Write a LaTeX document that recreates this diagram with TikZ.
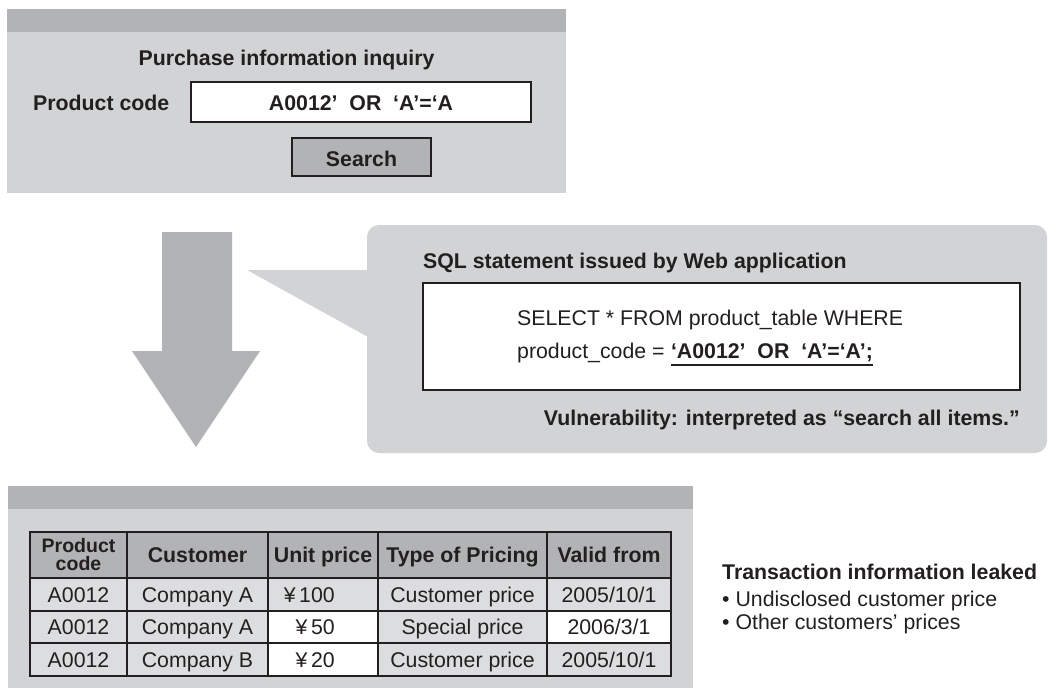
\documentclass[tikz,border=0pt]{standalone}
\usepackage{fontspec}
\setmainfont{Liberation Sans}
\definecolor{panelgray}{HTML}{D1D3D4}
\definecolor{bandgray}{HTML}{B2B3B5}
\definecolor{cellgray}{HTML}{DCDDDE}
\definecolor{ink}{HTML}{231F20}
\newcommand\mainsize{\fontsize{21.3}{25}\selectfont}
\tikzset{
  panel/.style={fill=panelgray, draw=none},
  band/.style={fill=bandgray, draw=none},
  framed/.style={draw=ink, line width=1.3pt},
  txt/.style={inner sep=0pt, text=ink, font=\mainsize},
  btxt/.style={inner sep=0pt, text=ink, font=\mainsize\bfseries},
  cell/.style={draw=ink, line width=1.2pt, inner sep=0pt, text=ink, font=\mainsize},
  oneline/.style={text height=15pt, text depth=0pt},
  hdr/.style={cell, oneline, fill=bandgray, font=\mainsize\bfseries},
}
\begin{document}
\begin{tikzpicture}[x=1pt, y=-1pt]
\useasboundingbox (0,0) rectangle (1056,693);

% ---------- inquiry form ----------
\fill[panelgray] (7,9) rectangle (566,193);
\fill[bandgray] (7,9) rectangle (566,32);
\node[btxt, anchor=base] (title) at (286.5,65) {Purchase information inquiry};
\node[btxt, anchor=base west] (pclabel) at (33,110) {Product code};
\draw[framed, fill=white] (191,82) rectangle (531,122);
\node[btxt, anchor=base] (pcinput) at (361,110) {A0012’\ \ OR\ \ ‘A’=‘A};
\draw[framed, fill=bandgray] (292,138) rectangle (431,176);
\node[btxt, anchor=base] (search) at (361.5,166) {Search};

% ---------- downward arrow ----------
\fill[bandgray] (162,232) -- (232,232) -- (232,351) -- (260,351) -- (196,447)
  -- (132,351) -- (162,351) -- cycle;

% ---------- SQL callout ----------
\fill[panelgray, rounded corners=12pt] (367,225) rectangle (1047,453);
\fill[panelgray] (247,270) -- (368,270) -- (368,337) -- cycle;
\node[btxt, anchor=base west] (sqltitle) at (423,268) {SQL statement issued by Web application};
\draw[framed, fill=white] (423,283) rectangle (1020,390);
\node[txt, anchor=base west] (sqlselect) at (517,325) {SELECT * FROM product\_table WHERE};
\node[txt, anchor=base west] (sqlcode) at (517,358) {product\_code =};
\node[btxt, anchor=base west] (inj) at ([xshift=6pt]sqlcode.base east) {‘A0012’\ \ OR\ \ ‘A’=‘A’;};
\draw[ink, line width=2.6pt] ([yshift=-7pt]inj.base west) -- ([yshift=-7pt]inj.base east);
\node[btxt, anchor=base east] (vuln) at (1020,425) {Vulnerability: interpreted as “search all items.”};

% ---------- result list ----------
\fill[panelgray] (8,486) rectangle (693,688);
\fill[bandgray] (8,486) rectangle (693,509);

% header row
\node[cell, fill=bandgray, font=\fontsize{19.5}{18}\selectfont\bfseries, align=center,
  minimum width=97pt, minimum height=46pt] (h1) at (78.5,555) {Product\\code};
\node[hdr, minimum width=141pt, minimum height=46pt] (h2) at (197.5,555) {Customer};
\node[hdr, minimum width=110pt, minimum height=46pt] (h3) at (323,555) {Unit price};
\node[hdr, minimum width=169pt, minimum height=46pt] (h4) at (462.5,555) {Type of Pricing};
\node[hdr, minimum width=124pt, minimum height=46pt] (h5) at (609,555) {Valid from};

% row 1
\node[cell, oneline, fill=cellgray, minimum width=97pt, minimum height=33pt] (a1) at (78.5,594.5) {A0012};
\node[cell, oneline, fill=cellgray, minimum width=141pt, minimum height=33pt] (b1) at (197.5,594.5) {Company A};
\node[cell, oneline, fill=cellgray, minimum width=110pt, minimum height=33pt] (c1) at (323,594.5) {};
\node[cell, oneline, fill=cellgray, minimum width=169pt, minimum height=33pt] (d1) at (462.5,594.5) {Customer price};
\node[cell, oneline, fill=cellgray, minimum width=124pt, minimum height=33pt] (e1) at (609,594.5) {2005/10/1};
% row 2
\node[cell, oneline, fill=cellgray, minimum width=97pt, minimum height=32pt] (a2) at (78.5,627) {A0012};
\node[cell, oneline, fill=cellgray, minimum width=141pt, minimum height=32pt] (b2) at (197.5,627) {Company A};
\node[cell, oneline, fill=white, minimum width=110pt, minimum height=32pt] (c2) at (323,627) {};
\node[cell, oneline, fill=cellgray, minimum width=169pt, minimum height=32pt] (d2) at (462.5,627) {Special price};
\node[cell, oneline, fill=white, minimum width=124pt, minimum height=32pt] (e2) at (609,627) {2006/3/1};
% row 3
\node[cell, oneline, fill=cellgray, minimum width=97pt, minimum height=33pt] (a3) at (78.5,659.5) {A0012};
\node[cell, oneline, fill=cellgray, minimum width=141pt, minimum height=33pt] (b3) at (197.5,659.5) {Company B};
\node[cell, oneline, fill=white, minimum width=110pt, minimum height=33pt] (c3) at (323,659.5) {};
\node[cell, oneline, fill=cellgray, minimum width=169pt, minimum height=33pt] (d3) at (462.5,659.5) {Customer price};
\node[cell, oneline, fill=cellgray, minimum width=124pt, minimum height=33pt] (e3) at (609,659.5) {2005/10/1};

% unit prices, right-aligned within their column
\node[txt, anchor=base east] (p1) at (335,602) {¥\,100};
\node[txt, anchor=base east] (p2) at (335,634.5) {¥\,50};
\node[txt, anchor=base east] (p3) at (335,667) {¥\,20};

% ---------- consequence ----------
\node[btxt, anchor=base west] (leak) at (722,579) {Transaction information leaked};
\node[txt, anchor=base west] (leak1) at (722,606) {• Undisclosed customer price};
\node[txt, anchor=base west] (leak2) at (722,629) {• Other customers’ prices};
\end{tikzpicture}
\end{document}
